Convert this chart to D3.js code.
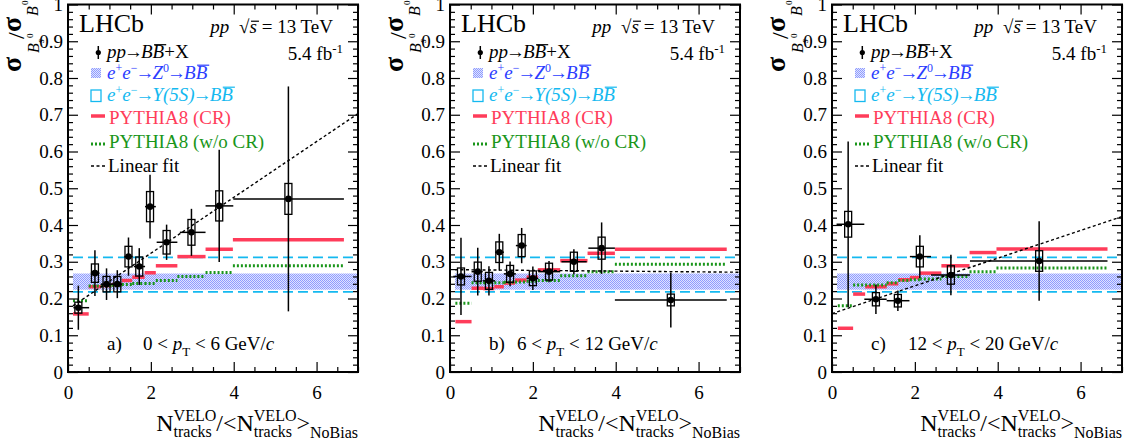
<!DOCTYPE html>
<html><head><meta charset="utf-8">
<script src="https://cdn.jsdelivr.net/npm/d3@7"></script>
<style>
body{margin:0;background:#fff}
svg{display:block}
text{font-family:"Liberation Serif","Times New Roman",serif}
</style>
</head><body>
<svg id="chart" width="1128" height="447"></svg>
<script>
// ---------------- DATA ----------------
const panelLabels = ["a)", "b)", "c)"];
const ptLow = ["0", "6", "12"];
const ptHigh = ["6", "12", "20"];
const xTicks = [0, 2, 4, 6];
const xTickLabels = ["0", "2", "4", "6"];
const yTicks = [0, 0.1, 0.2, 0.3, 0.4, 0.5, 0.6, 0.7, 0.8, 0.9, 1];
const yTickLabels = ["0", "0.1", "0.2", "0.3", "0.4", "0.5", "0.6", "0.7", "0.8", "0.9", "1"];

// e+e- -> Z0 band, e+e- -> Upsilon(5S) band
const z0Band = [0.224, 0.268];
const y5sBand = [0.218, 0.312];
const bandRange = [0.12, 7];

// Panel a) 0 < pT < 6
const aX    = [0.25, 0.65, 0.93, 1.19, 1.46, 1.72, 1.98, 2.38, 2.98, 3.65, 5.32];
const aY    = [0.175, 0.269, 0.239, 0.239, 0.314, 0.287, 0.450, 0.353, 0.380, 0.452, 0.471];
const aStat = [0.060, 0.062, 0.043, 0.038, 0.052, 0.050, 0.087, 0.048, 0.064, 0.153, 0.306];
const aSyst = [0.015, 0.025, 0.021, 0.021, 0.028, 0.026, 0.041, 0.032, 0.035, 0.041, 0.042];
const aXlo  = [0.13, 0.55, 0.79, 1.05, 1.36, 1.59, 1.86, 2.14, 2.70, 3.32, 3.99];
const aXhi  = [0.51, 0.76, 1.08, 1.30, 1.56, 1.86, 2.12, 2.64, 3.32, 3.99, 6.66];
const aEdges = [0.12, 0.50, 0.80, 1.05, 1.30, 1.55, 1.85, 2.12, 2.64, 3.32, 3.98, 6.66];
const aCR    = [0.158, 0.232, 0.235, 0.238, 0.249, 0.258, 0.270, 0.289, 0.314, 0.334, 0.360];
const aNoCR  = [0.194, 0.234, 0.234, 0.236, 0.238, 0.241, 0.241, 0.249, 0.260, 0.271, 0.289];
const aFit = [0.171, 0.076];          // intercept, slope
const aFitRange = [0.12, 7];

// Panel b) 6 < pT < 12
const bX    = [0.265, 0.67, 0.94, 1.19, 1.45, 1.73, 2.00, 2.39, 2.99, 3.66, 5.33];
const bY    = [0.260, 0.273, 0.248, 0.326, 0.267, 0.344, 0.255, 0.273, 0.300, 0.337, 0.196];
const bStat = [0.105, 0.065, 0.040, 0.050, 0.034, 0.048, 0.032, 0.029, 0.034, 0.070, 0.075];
const bSyst = [0.023, 0.026, 0.023, 0.028, 0.023, 0.030, 0.020, 0.023, 0.026, 0.030, 0.016];
const bXlo  = [0.08, 0.52, 0.79, 1.09, 1.30, 1.59, 1.85, 2.13, 2.69, 3.34, 3.98];
const bXhi  = [0.52, 0.79, 1.09, 1.30, 1.59, 1.85, 2.13, 2.66, 3.30, 3.98, 6.68];
const bEdges = [0.13, 0.52, 0.80, 1.07, 1.30, 1.57, 1.85, 2.12, 2.66, 3.32, 3.98, 6.68];
const bCR    = [0.137, 0.228, 0.227, 0.232, 0.242, 0.250, 0.258, 0.278, 0.303, 0.323, 0.334];
const bNoCR  = [0.187, 0.243, 0.243, 0.243, 0.244, 0.245, 0.247, 0.249, 0.262, 0.273, 0.293];
const bFit = [0.2785, -0.001];
const bFitRange = [0.12, 7];

// Panel c) 12 < pT < 20
const cX    = [0.39, 1.06, 1.59, 2.12, 2.87, 5.00];
const cY    = [0.402, 0.198, 0.194, 0.314, 0.264, 0.302];
const cStat = [0.225, 0.040, 0.028, 0.058, 0.055, 0.108];
const cSyst = [0.035, 0.018, 0.017, 0.028, 0.025, 0.028];
const cXlo  = [0.11, 0.78, 1.32, 1.88, 2.39, 3.33];
const cXhi  = [0.78, 1.32, 1.87, 2.39, 3.33, 6.65];
const cEdges = [0.14, 0.51, 0.80, 1.32, 1.60, 1.88, 2.12, 2.64, 3.32, 3.97, 6.65];
const cCR    = [0.119, 0.212, 0.232, 0.240, 0.251, 0.257, 0.269, 0.289, 0.325, 0.335];
const cNoCR  = [0.180, 0.237, 0.237, 0.243, 0.249, 0.251, 0.253, 0.260, 0.273, 0.283];
const cFit = [0.159, 0.0377];
const cFitRange = [0, 7];

// ---------------- STYLE / LAYOUT ----------------
const COL = {red:"#ff3c5a", green:"#1a961a", blue:"#2b3dff", cyan:"#14b9f0", black:"#000"};
const panels = [
  {left:68,  rangeDx:75, X:aX, Y:aY, stat:aStat, syst:aSyst, xlo:aXlo, xhi:aXhi, edges:aEdges, cr:aCR, nocr:aNoCR, fit:aFit, fitRange:aFitRange},
  {left:450, rangeDx:67, X:bX, Y:bY, stat:bStat, syst:bSyst, xlo:bXlo, xhi:bXhi, edges:bEdges, cr:bCR, nocr:bNoCR, fit:bFit, fitRange:bFitRange},
  {left:832, rangeDx:76, X:cX, Y:cY, stat:cStat, syst:cSyst, xlo:cXlo, xhi:cXhi, edges:cEdges, cr:cCR, nocr:cNoCR, fit:cFit, fitRange:cFitRange}
];
const W = 290, TOP = 4.5, BOT = 372;

const svg = d3.select("#chart");
const defs = svg.append("defs");
const pat = defs.append("pattern").attr("id","dots").attr("width",2).attr("height",2).attr("patternUnits","userSpaceOnUse");
pat.append("rect").attr("width",2).attr("height",2).attr("fill","#dfe3ff");
pat.append("rect").attr("x",0).attr("y",0).attr("width",1).attr("height",1).attr("fill","#8f9cff");
pat.append("rect").attr("x",1).attr("y",1).attr("width",1).attr("height",1).attr("fill","#8f9cff");

// rich text: parts with shift (sh), size (sz), italic (i), overline (ol), dx
function rich(sel, x, y, parts, size, fill, anchor) {
  const color = fill || "#000";
  const t = sel.append("text").attr("x", x).attr("y", y).attr("font-size", size).attr("fill", color);
  if (anchor) t.attr("text-anchor", anchor);
  let cur = 0, idx = 0;
  const over = [];
  parts.forEach(p => {
    const s = t.append("tspan").text(p.t);
    const target = p.sh || 0;
    if (target !== cur) { s.attr("dy", target - cur); cur = target; }
    if (p.dx) s.attr("dx", p.dx);
    if (p.sz) s.attr("font-size", p.sz);
    if (p.i) s.attr("font-style", "italic");
    if (p.ol) over.push({a: idx, b: idx + p.t.length - 1, shift: p.i ? 1.5 : 0, lift: p.olLift || 0.7});
    idx += p.t.length;
  });
  const node = t.node();
  over.forEach(o => {
    const s = node.getStartPositionOfChar(o.a), e = node.getEndPositionOfChar(o.b);
    const yy = s.y - o.lift * size;
    sel.append("line").attr("x1", s.x + o.shift).attr("x2", e.x + o.shift + 0.5)
      .attr("y1", yy).attr("y2", yy).attr("stroke", color).attr("stroke-width", 1.2);
  });
  return t;
}

panels.forEach((P, pi) => {
  const L = P.left, R = L + W;
  const x = d3.scaleLinear().domain([0, 7]).range([L, R]);
  const y = d3.scaleLinear().domain([0, 1]).range([BOT, TOP]);
  const g = svg.append("g");

  // Z0 band
  g.append("rect").attr("x", x(bandRange[0])).attr("width", x(bandRange[1]) - x(bandRange[0]))
    .attr("y", y(z0Band[1])).attr("height", y(z0Band[0]) - y(z0Band[1])).attr("fill", "url(#dots)");
  // Upsilon(5S) dashed lines
  y5sBand.forEach(v => g.append("line").attr("x1", x(bandRange[0])).attr("x2", x(bandRange[1]))
    .attr("y1", y(v)).attr("y2", y(v)).attr("stroke", COL.cyan).attr("stroke-width", 1.6).attr("stroke-dasharray", "10,5"));

  // PYTHIA CR
  g.selectAll(".cr").data(P.cr).enter().append("line")
    .attr("x1", (d, i) => x(P.edges[i])).attr("x2", (d, i) => x(P.edges[i + 1]))
    .attr("y1", d => y(d)).attr("y2", d => y(d)).attr("stroke", COL.red).attr("stroke-width", 3.5);
  // PYTHIA w/o CR
  g.selectAll(".nocr").data(P.nocr).enter().append("line")
    .attr("x1", (d, i) => x(P.edges[i])).attr("x2", (d, i) => x(P.edges[i + 1]))
    .attr("y1", d => y(d)).attr("y2", d => y(d)).attr("stroke", COL.green).attr("stroke-width", 3).attr("stroke-dasharray", "2,2");

  // Linear fit
  g.append("line").attr("x1", x(P.fitRange[0])).attr("x2", x(P.fitRange[1]))
    .attr("y1", y(P.fit[0] + P.fit[1] * P.fitRange[0])).attr("y2", y(P.fit[0] + P.fit[1] * P.fitRange[1]))
    .attr("stroke", "#000").attr("stroke-width", 1.4).attr("stroke-dasharray", "3,2.5");

  // Data points
  const pts = g.selectAll(".pt").data(P.X.map((v, i) => i)).enter().append("g");
  pts.append("line").attr("x1", i => x(P.X[i])).attr("x2", i => x(P.X[i]))
    .attr("y1", i => y(P.Y[i] + P.stat[i])).attr("y2", i => y(P.Y[i] - P.stat[i]))
    .attr("stroke", "#000").attr("stroke-width", 1.5);
  pts.append("line").attr("x1", i => x(P.xlo[i])).attr("x2", i => x(P.xhi[i]))
    .attr("y1", i => y(P.Y[i])).attr("y2", i => y(P.Y[i]))
    .attr("stroke", "#000").attr("stroke-width", 1.5);
  pts.append("rect").attr("x", i => x(P.X[i]) - 3.5).attr("width", 7)
    .attr("y", i => y(P.Y[i] + P.syst[i])).attr("height", i => y(P.Y[i] - P.syst[i]) - y(P.Y[i] + P.syst[i]))
    .attr("fill", "none").attr("stroke", "#000").attr("stroke-width", 1.3);
  pts.append("circle").attr("cx", i => x(P.X[i])).attr("cy", i => y(P.Y[i])).attr("r", 3.3).attr("fill", "#000");

  // Axes
  const styleAxis = a => { a.select(".domain").remove(); a.attr("font-family", '"Liberation Serif",serif').attr("font-size", 19); a.selectAll("line").attr("stroke-width", 1.2); };
  const minorX = d3.range(0, 7.001, 0.5).filter(v => Math.abs(v / 2 - Math.round(v / 2)) > 1e-6);
  const minorY = d3.range(0, 1.0001, 0.02).filter(v => Math.abs(v * 10 - Math.round(v * 10)) > 1e-6);
  g.append("g").attr("transform", `translate(0,${BOT})`)
    .call(d3.axisBottom(x).tickValues(xTicks).tickFormat((d, i) => xTickLabels[i]).tickSize(-10).tickPadding(14).tickSizeOuter(0)).call(styleAxis);
  g.append("g").attr("transform", `translate(0,${BOT})`)
    .call(d3.axisBottom(x).tickValues(minorX).tickFormat("").tickSize(-5).tickSizeOuter(0)).call(styleAxis);
  g.append("g").attr("transform", `translate(0,${TOP})`)
    .call(d3.axisTop(x).tickValues(xTicks).tickFormat("").tickSize(-10).tickSizeOuter(0)).call(styleAxis);
  g.append("g").attr("transform", `translate(0,${TOP})`)
    .call(d3.axisTop(x).tickValues(minorX).tickFormat("").tickSize(-5).tickSizeOuter(0)).call(styleAxis);
  g.append("g").attr("transform", `translate(${L},0)`)
    .call(d3.axisLeft(y).tickValues(yTicks).tickFormat((d, i) => yTickLabels[i]).tickSize(-10).tickPadding(5).tickSizeOuter(0)).call(styleAxis);
  g.append("g").attr("transform", `translate(${L},0)`)
    .call(d3.axisLeft(y).tickValues(minorY).tickFormat("").tickSize(-5).tickSizeOuter(0)).call(styleAxis);
  g.append("g").attr("transform", `translate(${R},0)`)
    .call(d3.axisRight(y).tickValues(yTicks).tickFormat("").tickSize(-10).tickSizeOuter(0)).call(styleAxis);
  g.append("g").attr("transform", `translate(${R},0)`)
    .call(d3.axisRight(y).tickValues(minorY).tickFormat("").tickSize(-5).tickSizeOuter(0)).call(styleAxis);
  g.append("rect").attr("x", L).attr("y", TOP).attr("width", W).attr("height", BOT - TOP)
    .attr("fill", "none").attr("stroke", "#000").attr("stroke-width", 2);

  // Header texts
  g.append("text").attr("x", L + 11).attr("y", 32).attr("font-size", 26).text("LHCb");
  rich(g, L + 265, 33, [{t:"pp", i:1}, {t:" \u221A", dx:5}, {t:"s", i:1, ol:1, olLift:0.62}, {t:" = 13 TeV"}], 19, "#000", "end");
  rich(g, L + 275, 60, [{t:"5.4 fb"}, {t:"-1", sh:-7, sz:13}], 19, "#000", "end");

  // Legend
  const lx = L + 39;
  const AR = {t:"\u2192", dx:-2};
  g.append("line").attr("x1", L + 30.3).attr("x2", L + 30.3).attr("y1", 46).attr("y2", 59).attr("stroke", "#000").attr("stroke-width", 1.5);
  g.append("circle").attr("cx", L + 30.3).attr("cy", 52.5).attr("r", 2.6).attr("fill", "#000");
  rich(g, lx, 58, [{t:"pp", i:1}, AR, {t:"B", i:1, dx:-2}, {t:"B", i:1, ol:1}, {t:"+X"}], 19, "#000");

  g.append("rect").attr("x", L + 23).attr("y", 68).attr("width", 10).attr("height", 10).attr("fill", "url(#dots)");
  rich(g, lx, 78.5, [{t:"e", i:1}, {t:"+", sh:-7, sz:12}, {t:"e", i:1}, {t:"\u2212", sh:-7, sz:12}, AR,
    {t:"Z", i:1, dx:-2}, {t:"0", sh:-7, sz:12}, AR, {t:"B", i:1, dx:-2}, {t:"B", i:1, ol:1}], 19, COL.blue);

  g.append("rect").attr("x", L + 23).attr("y", 90).attr("width", 10).attr("height", 11.5).attr("fill", "none").attr("stroke", COL.cyan).attr("stroke-width", 1.3);
  rich(g, lx, 100.5, [{t:"e", i:1}, {t:"+", sh:-7, sz:12}, {t:"e", i:1}, {t:"\u2212", sh:-7, sz:12}, AR,
    {t:"\u03A5", i:1, dx:-2}, {t:"(5S)", i:1}, AR, {t:"B", i:1, dx:-2}, {t:"B", i:1, ol:1}], 19, COL.cyan);

  g.append("line").attr("x1", L + 23).attr("x2", L + 37).attr("y1", 116).attr("y2", 116).attr("stroke", COL.red).attr("stroke-width", 3.5);
  g.append("text").attr("x", lx + 2).attr("y", 124).attr("font-size", 19).attr("fill", COL.red).text("PYTHIA8 (CR)");

  g.append("line").attr("x1", L + 23).attr("x2", L + 37).attr("y1", 144).attr("y2", 144).attr("stroke", COL.green).attr("stroke-width", 3).attr("stroke-dasharray", "2,2");
  g.append("text").attr("x", lx + 2).attr("y", 148).attr("font-size", 19).attr("fill", COL.green).text("PYTHIA8 (w/o CR)");

  g.append("line").attr("x1", L + 23).attr("x2", L + 37).attr("y1", 166).attr("y2", 166).attr("stroke", "#000").attr("stroke-width", 1.3).attr("stroke-dasharray", "3,2.5");
  g.append("text").attr("x", lx + 1).attr("y", 172).attr("font-size", 19).text("Linear fit");

  // Panel label
  g.append("text").attr("x", L + 39).attr("y", 350).attr("font-size", 19).text(panelLabels[pi]);
  rich(g, L + P.rangeDx, 350, [{t:ptLow[pi] + " < "}, {t:"p", i:1}, {t:"T", sh:6, sz:13}, {t:" < " + ptHigh[pi] + " GeV/"}, {t:"c", i:1}], 19, "#000");

  // X axis title
  const xt = g.append("g");
  let cx = 0;
  const add = (t, size, base, at) => xt.append("text").attr("x", at).attr("y", base).attr("font-size", size).text(t).node().getComputedTextLength();
  cx += add("N", 24, 431, cx);
  let w1 = add("VELO", 16, 421, cx), w2 = add("tracks", 16, 437, cx); cx += Math.max(w1, w2);
  cx += add("/", 24, 431, cx);
  cx += add("<", 24, 431, cx);
  cx += add("N", 24, 431, cx);
  w1 = add("VELO", 16, 421, cx); w2 = add("tracks", 16, 437, cx); cx += Math.max(w1, w2);
  cx += add(">", 24, 431, cx);
  cx += add("NoBias", 16, 438, cx);
  xt.attr("transform", `translate(${R - cx},0)`);

  // Y axis title (rotated)
  const yt = g.append("g").attr("transform", `translate(${L - 47},72) rotate(-90)`);
  const ya = (t, size, u, v, o) => {
    const e = yt.append("text").attr("x", u).attr("y", v).attr("font-size", size).text(t);
    if (o && o.b) e.attr("font-weight", "bold");
    if (o && o.i) e.attr("font-style", "italic");
  };
  ya("\u03C3", 28, 0, 0, {b:1});
  ya("B", 16, 19, 18, {i:1});
  ya("s", 10, 29, 23, {i:1});
  ya("0", 9, 34, 12);
  ya("/", 24, 33, 3);
  ya("\u03C3", 28, 40, 0, {b:1});
  ya("B", 16, 56, 17, {i:1});
  ya("0", 9, 67, 7);
});
</script>
</body></html>
